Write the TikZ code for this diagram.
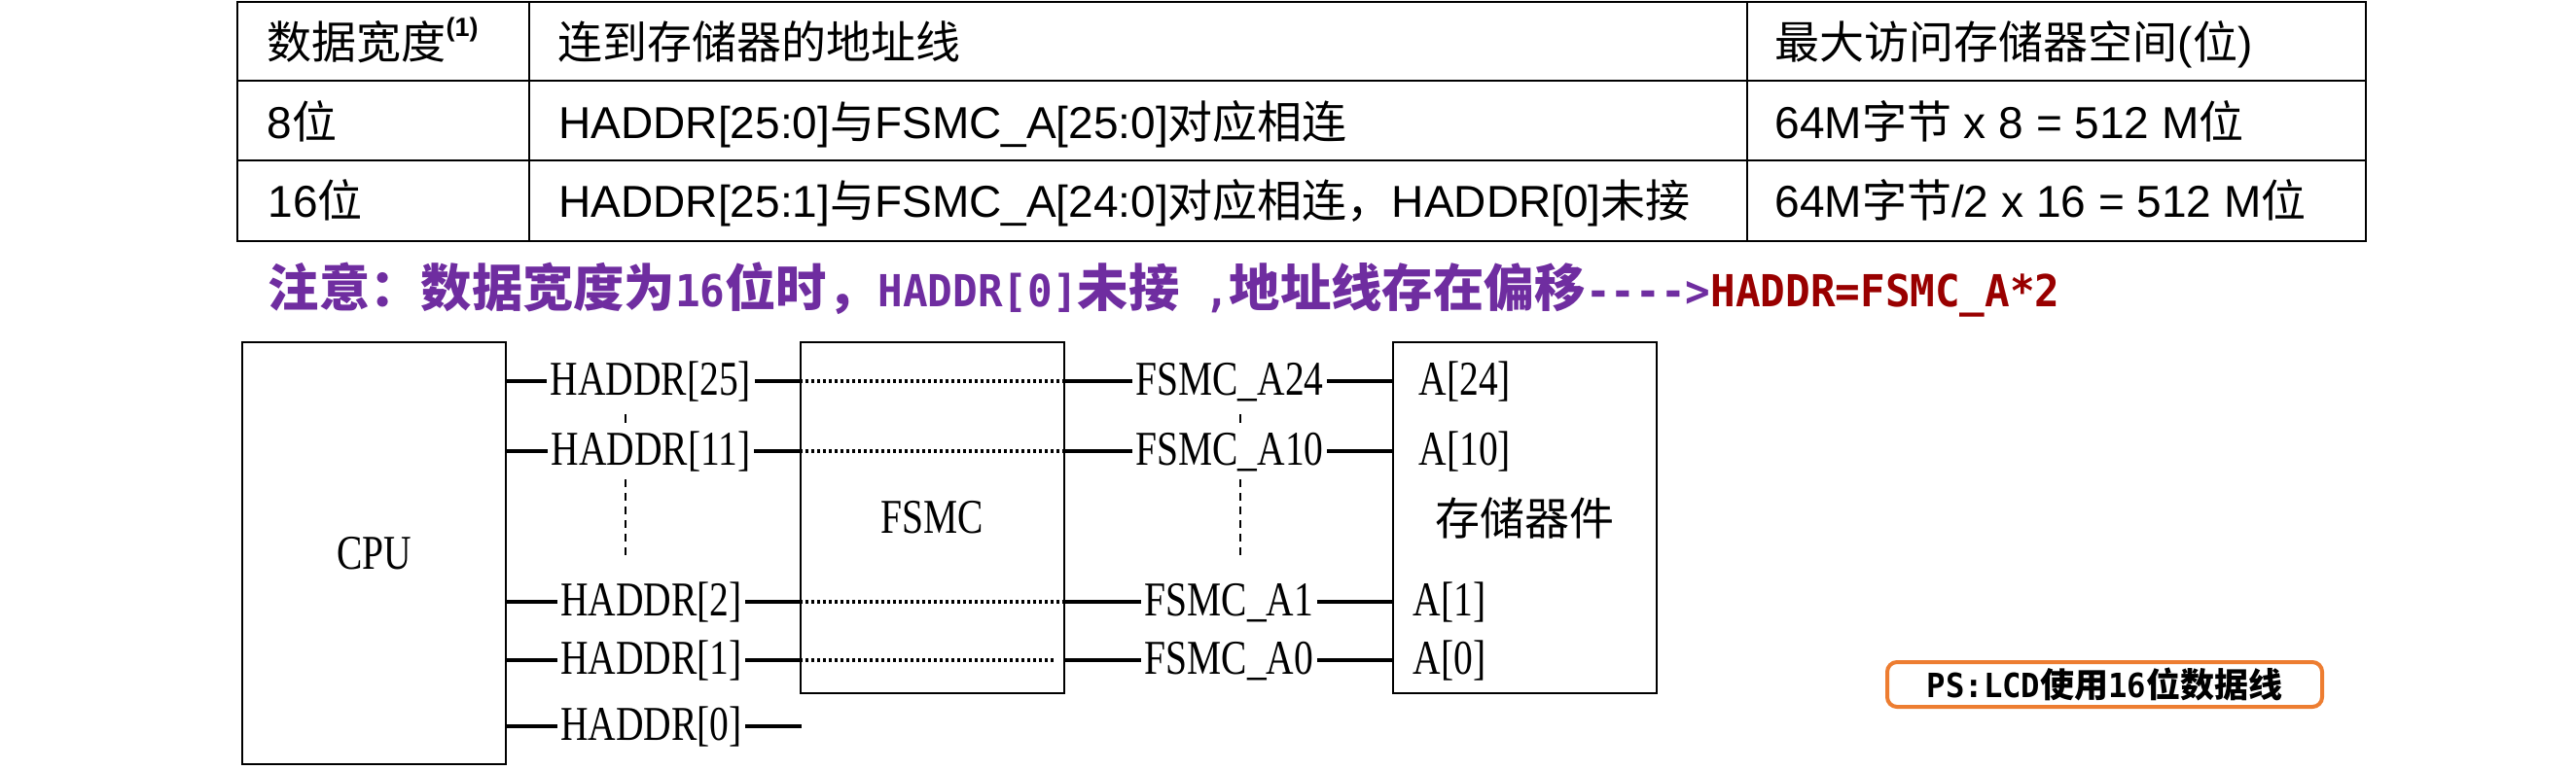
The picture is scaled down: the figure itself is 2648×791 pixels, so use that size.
\documentclass[tikz,border=0pt]{standalone}
\usepackage{fontspec}
\setmainfont{Liberation Sans}
\newfontfamily\cjk{Noto Sans CJK SC}
\newfontfamily\monob{DejaVu Sans Mono}[FakeStretch=0.94]
\newfontfamily\serifc{Liberation Serif}[FakeStretch=0.79]
\definecolor{notepurple}{HTML}{6F2DA0}
\definecolor{notered}{HTML}{990000}
\definecolor{psorange}{HTML}{ED7D31}
\newcommand\tabfont{\fontsize{13.8pt}{16pt}\selectfont}
\newcommand\tabcjk[1]{{\cjk #1}}
\newcommand\diafont{\fontsize{15pt}{17pt}\selectfont\serifc}
\newcommand\notecjk[1]{{\fontsize{15.7pt}{17pt}\selectfont\cjk\bfseries #1}}
\newcommand\notelat[1]{{\fontsize{13.6pt}{17pt}\selectfont\monob\bfseries #1}}
\newcommand\pscjk[1]{{\fontsize{10.5pt}{12pt}\selectfont\cjk\bfseries #1}}
\newcommand\pslat[1]{{\fontsize{10.3pt}{12pt}\selectfont\monob\bfseries #1}}
\begin{document}
\begin{tikzpicture}[x=0.3pt,y=-0.3pt,line cap=butt,
  tabline/.style={line width=0.8pt},
  tabtext/.style={anchor=base west,inner sep=0pt,font=\tabfont},
  box/.style={draw,line width=0.75pt,inner sep=0pt,minimum width=81.3pt},
  lab/.style={anchor=base,inner xsep=0.9pt,inner ysep=0pt,font=\diafont},
  memlab/.style={anchor=base west,inner sep=0pt,font=\diafont},
  wire/.style={line width=1pt},
  dotline/.style={line width=1pt,dash pattern=on 1pt off 0.8pt},
  vdots/.style={line width=0.6pt,dash pattern=on 2.4pt off 1.8pt}]
\useasboundingbox (0,0) rectangle (2648,791);
\fill[white] (0,0) rectangle (2648,791);
% ---------- table ----------
\draw[tabline] (244,2) rectangle (2432,248);
\draw[tabline] (244,83) -- (2432,83);
\draw[tabline] (244,165) -- (2432,165);
\draw[tabline] (544,2) -- (544,248);
\draw[tabline] (1796,2) -- (1796,248);
\node[tabtext] (t11) at (274,60) {\tabcjk{数据宽度}\raisebox{6.9pt}{\fontsize{8.1pt}{9pt}\selectfont\bfseries (1)}};
\node[tabtext] (t12) at (573,60) {\tabcjk{连到存储器的地址线}};
\node[tabtext] (t13) at (1824,60) {\tabcjk{最大访问存储器空间}(\tabcjk{位})};
\node[tabtext] (t21) at (274,142) {8\tabcjk{位}};
\node[tabtext] (t22) at (574,142) {HADDR[25:0]\tabcjk{与}FSMC\_A[25:0]\tabcjk{对应相连}};
\node[tabtext] (t23) at (1824,142) {64M\tabcjk{字节} x 8 = 512 M\tabcjk{位}};
\node[tabtext] (t31) at (275,223) {16\tabcjk{位}};
\node[tabtext] (t32) at (574,223) {HADDR[25:1]\tabcjk{与}FSMC\_A[24:0]\tabcjk{对应相连，}HADDR[0]\tabcjk{未接}};
\node[tabtext] (t33) at (1824,223) {64M\tabcjk{字节}/2 x 16 = 512 M\tabcjk{位}};
% ---------- note ----------
\node[anchor=base west,inner sep=0pt,text=notepurple] (note) at (275,315)
 {\notecjk{注意：数据宽度为}\notelat{16}\notecjk{位时，}\notelat{HADDR[0]}\notecjk{未接}\notelat{\ ,}\notecjk{地址线存在偏移}\notelat{{-}{-}{-}{-}>}\textcolor{notered}{\notelat{HADDR=FSMC\_A*2}}};
% ---------- diagram ----------
\node[box,minimum height=130.2pt,font=\diafont] (cpu) at (384.5,569) {CPU};
\node[box,minimum height=108.3pt,font=\diafont] (fsmc) at (958.5,532.5) {FSMC};
\node[box,minimum height=108.3pt,font=\fontsize{13.8pt}{16pt}\selectfont\cjk] (mem) at (1567.5,532.5) {存储器件};
\coordinate (r1) at (0,392);
\coordinate (r2) at (0,464);
\coordinate (r3) at (0,619);
\coordinate (r4) at (0,679);
\coordinate (r5) at (0,747);
\node[lab] (h25) at (669,406) {HADDR[25]};
\node[lab] (h11) at (669,478) {HADDR[11]};
\node[lab] (h2) at (669.5,633) {HADDR[2]};
\node[lab] (h1) at (669.5,693) {HADDR[1]};
\node[lab] (h0) at (669.5,761) {HADDR[0]};
\node[lab] (fa24) at (1264,406) {FSMC\_A24};
\node[lab] (fa10) at (1264,478) {FSMC\_A10};
\node[lab] (fa1) at (1263.5,633) {FSMC\_A1};
\node[lab] (fa0) at (1263.5,693) {FSMC\_A0};
\node[memlab] (ma24) at (1458,406) {A[24]};
\node[memlab] (ma10) at (1458,478) {A[10]};
\node[memlab] (ma1) at (1452,633) {A[1]};
\node[memlab] (ma0) at (1452,693) {A[0]};
\foreach \r/\h/\f in {r1/h25/fa24,r2/h11/fa10,r3/h2/fa1}{
  \draw[wire] (cpu.east |- \r) -- (\h.west |- \r);
  \draw[wire] (\h.east |- \r) -- (fsmc.west |- \r);
  \draw[dotline] (fsmc.west |- \r) -- (fsmc.east |- \r);
  \draw[wire] (fsmc.east |- \r) -- (\f.west |- \r);
  \draw[wire] (\f.east |- \r) -- (mem.west |- \r);
}
\draw[wire] (cpu.east |- r4) -- (h1.west |- r4);
\draw[wire] (h1.east |- r4) -- (fsmc.west |- r4);
\coordinate (d4e) at (1085,679);
\draw[dotline] (fsmc.west |- r4) -- (d4e);
\draw[wire] (fsmc.east |- r4) -- (fa0.west |- r4);
\draw[wire] (fa0.east |- r4) -- (mem.west |- r4);
\coordinate (h0end) at (824,747);
\draw[wire] (cpu.east |- r5) -- (h0.west |- r5);
\draw[wire] (h0.east |- r5) -- (h0end);
% vertical ellipsis marks
\coordinate (la1) at (643,426); \coordinate (lb1) at (643,435);
\coordinate (la2) at (643,493); \coordinate (lb2) at (643,575);
\coordinate (ra1) at (1275,426); \coordinate (rb1) at (1275,435);
\coordinate (ra2) at (1275,493); \coordinate (rb2) at (1275,575);
\draw[line width=0.6pt] (la1) -- (lb1);
\draw[line width=0.6pt] (ra1) -- (rb1);
\draw[vdots] (la2) -- (lb2);
\draw[vdots] (ra2) -- (rb2);
% ---------- PS box ----------
\node[draw=psorange,line width=1.2pt,rounded corners=3pt,inner sep=0pt,minimum width=134.1pt,minimum height=13.8pt] (ps) at (2163.5,704)
 {\pslat{PS:LCD}\pscjk{使用}\pslat{16}\pscjk{位数据线}};
\end{tikzpicture}
\end{document}
